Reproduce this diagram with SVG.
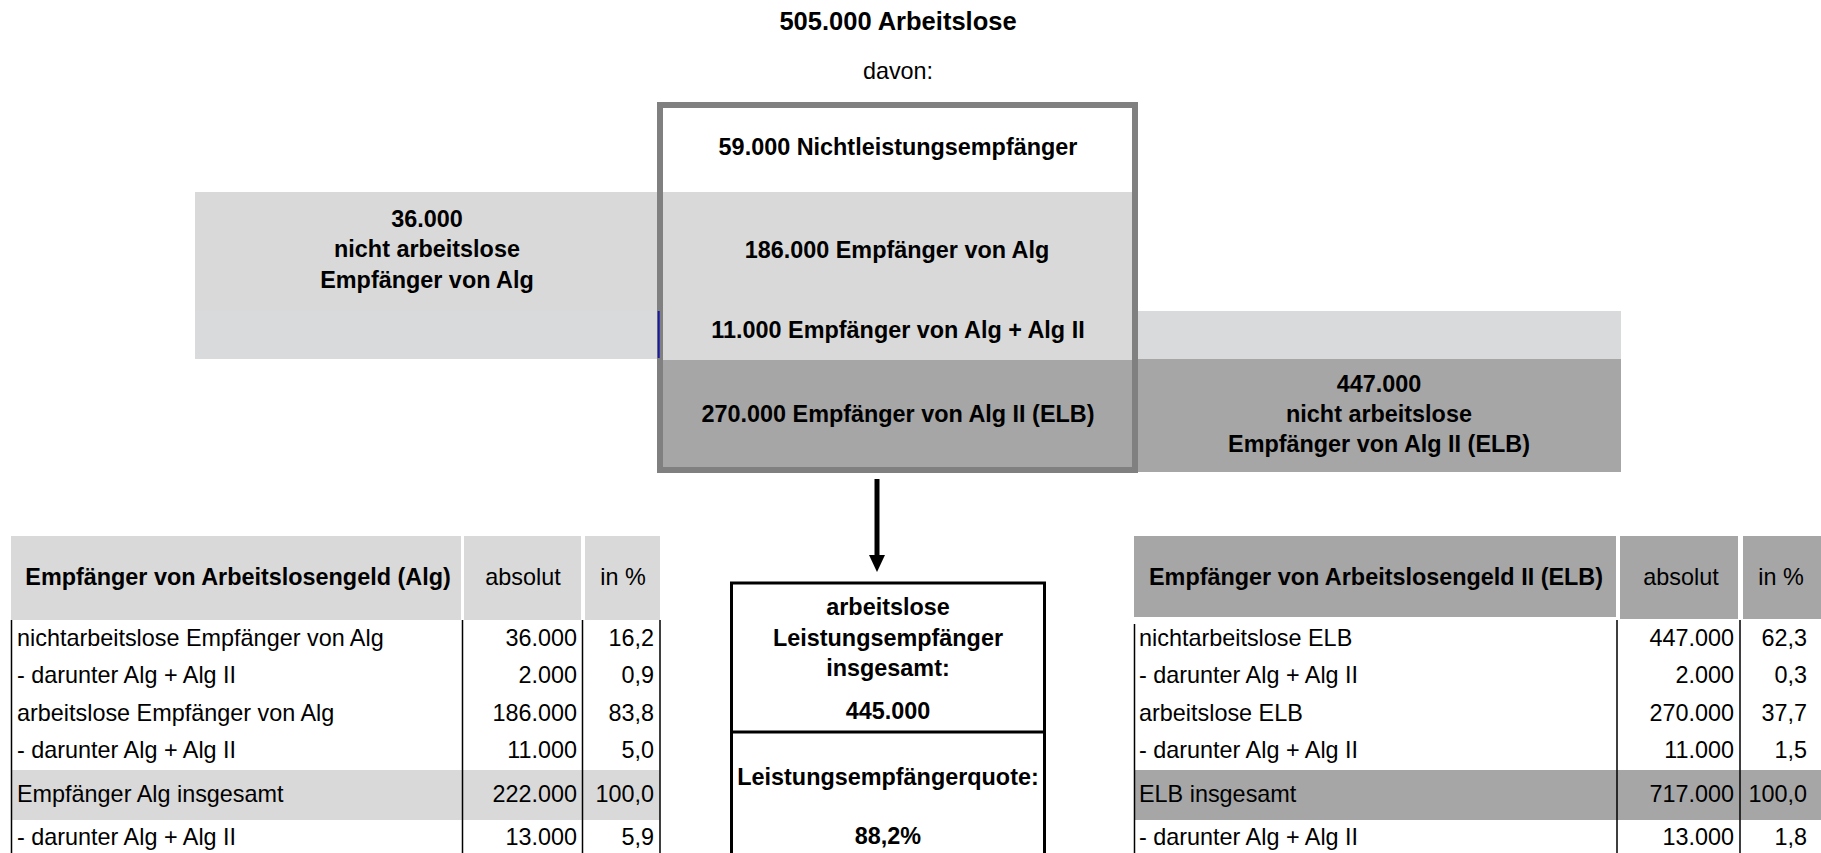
<svg xmlns="http://www.w3.org/2000/svg" width="1821" height="853" viewBox="0 0 1821 853">
<defs>
<style>
text{font-family:"Liberation Sans",Arial,sans-serif;font-size:23.4px;fill:#000}
.b{font-weight:bold}
.m{text-anchor:middle}
.e{text-anchor:end}
.lg{fill:#d9d9d9}
.dg{fill:#a6a6a6}
.band{fill:#d9dadc}
.grid{stroke:#000;stroke-width:1.5;fill:none}
</style>
<marker id="ah" markerUnits="userSpaceOnUse" markerWidth="18" markerHeight="18" refX="5" refY="8" orient="auto">
<path d="M0,0 L17,8 L0,16 z" fill="#000"/>
</marker>
</defs>
<rect width="1821" height="853" fill="#fff"/>

<g id="title">
<text class="b m" x="898" y="30" style="font-size:25.5px">505.000 Arbeitslose</text>
<text class="m" x="898" y="79">davon:</text>
</g>

<g id="left-alg-box">
<rect class="lg" x="195" y="192" width="463" height="119"/>
<rect class="band" x="195" y="311" width="463" height="48"/>
<text class="b m" x="427" y="227">36.000</text>
<text class="b m" x="427" y="257">nicht arbeitslose</text>
<text class="b m" x="427" y="288">Empfänger von Alg</text>
</g>

<g id="right-elb-box">
<rect class="band" x="1136" y="311" width="485" height="48"/>
<rect class="dg" x="1136" y="359" width="485" height="113"/>
<text class="b m" x="1379" y="392">447.000</text>
<text class="b m" x="1379" y="422">nicht arbeitslose</text>
<text class="b m" x="1379" y="452">Empfänger von Alg II (ELB)</text>
</g>

<g id="central-box">
<rect x="660" y="105" width="475" height="365" fill="#fff"/>
<rect class="lg" x="660" y="192" width="475" height="168"/>
<rect class="dg" x="660" y="360" width="475" height="110"/>
<rect x="660" y="105" width="475" height="365" fill="none" stroke="#808080" stroke-width="6"/>
<line x1="658.7" y1="311" x2="658.7" y2="358" stroke="#1a1aa0" stroke-width="2"/>
<text class="b m" x="898" y="155">59.000 Nichtleistungsempfänger</text>
<text class="b m" x="897" y="258">186.000 Empfänger von Alg</text>
<text class="b m" x="898" y="338">11.000 Empfänger von Alg + Alg II</text>
<text class="b m" x="898" y="422">270.000 Empfänger von Alg II (ELB)</text>
</g>

<g id="connectors">
<line x1="877" y1="479" x2="877" y2="560" stroke="#000" stroke-width="5" marker-end="url(#ah)"/>
</g>

<g id="summary-box">
<rect x="731.5" y="583" width="313" height="280" fill="#fff" stroke="#000" stroke-width="3"/>
<line x1="730" y1="732" x2="1046" y2="732" stroke="#000" stroke-width="3"/>
<text class="b m" x="888" y="615">arbeitslose</text>
<text class="b m" x="888" y="646">Leistungsempfänger</text>
<text class="b m" x="888" y="676">insgesamt:</text>
<text class="b m" x="888" y="719">445.000</text>
<text class="b m" x="888" y="785">Leistungsempfängerquote:</text>
<text class="b m" x="888" y="844">88,2%</text>
</g>

<g id="table-alg">
<rect class="lg" x="11" y="536" width="450" height="84"/>
<rect class="lg" x="464" y="536" width="117" height="84"/>
<rect class="lg" x="585" y="536" width="75" height="84"/>
<rect class="lg" x="11" y="770" width="649" height="50"/>
<path class="grid" d="M11.5,620 V853 M462.5,620 V853 M582.5,620 V853 M660,620 V853"/>
<text class="b m" x="238" y="585">Empfänger von Arbeitslosengeld (Alg)</text>
<text class="m" x="523" y="585">absolut</text>
<text class="m" x="623" y="585">in %</text>
<text x="17" y="646">nichtarbeitslose Empfänger von Alg</text>
<text class="e" x="577" y="646">36.000</text>
<text class="e" x="654" y="646">16,2</text>
<text x="17" y="683">- darunter Alg + Alg II</text>
<text class="e" x="577" y="683">2.000</text>
<text class="e" x="654" y="683">0,9</text>
<text x="17" y="721">arbeitslose Empfänger von Alg</text>
<text class="e" x="577" y="721">186.000</text>
<text class="e" x="654" y="721">83,8</text>
<text x="17" y="758">- darunter Alg + Alg II</text>
<text class="e" x="577" y="758">11.000</text>
<text class="e" x="654" y="758">5,0</text>
<text x="17" y="802">Empfänger Alg insgesamt</text>
<text class="e" x="577" y="802">222.000</text>
<text class="e" x="654" y="802">100,0</text>
<text x="17" y="845">- darunter Alg + Alg II</text>
<text class="e" x="577" y="845">13.000</text>
<text class="e" x="654" y="845">5,9</text>
</g>

<g id="table-elb">
<rect class="dg" x="1134" y="536" width="482" height="81"/>
<rect class="dg" x="1620" y="536" width="118" height="83"/>
<rect class="dg" x="1743" y="536" width="78" height="83"/>
<rect class="dg" x="1134" y="770" width="687" height="50"/>
<path class="grid" d="M1134.5,624 V853 M1617,620 V853 M1740,620 V853"/>
<text class="b m" x="1376" y="585">Empfänger von Arbeitslosengeld II (ELB)</text>
<text class="m" x="1681" y="585">absolut</text>
<text class="m" x="1781" y="585">in %</text>
<text x="1139" y="646">nichtarbeitslose ELB</text>
<text class="e" x="1734" y="646">447.000</text>
<text class="e" x="1807" y="646">62,3</text>
<text x="1139" y="683">- darunter Alg + Alg II</text>
<text class="e" x="1734" y="683">2.000</text>
<text class="e" x="1807" y="683">0,3</text>
<text x="1139" y="721">arbeitslose ELB</text>
<text class="e" x="1734" y="721">270.000</text>
<text class="e" x="1807" y="721">37,7</text>
<text x="1139" y="758">- darunter Alg + Alg II</text>
<text class="e" x="1734" y="758">11.000</text>
<text class="e" x="1807" y="758">1,5</text>
<text x="1139" y="802">ELB insgesamt</text>
<text class="e" x="1734" y="802">717.000</text>
<text class="e" x="1807" y="802">100,0</text>
<text x="1139" y="845">- darunter Alg + Alg II</text>
<text class="e" x="1734" y="845">13.000</text>
<text class="e" x="1807" y="845">1,8</text>
</g>
</svg>
